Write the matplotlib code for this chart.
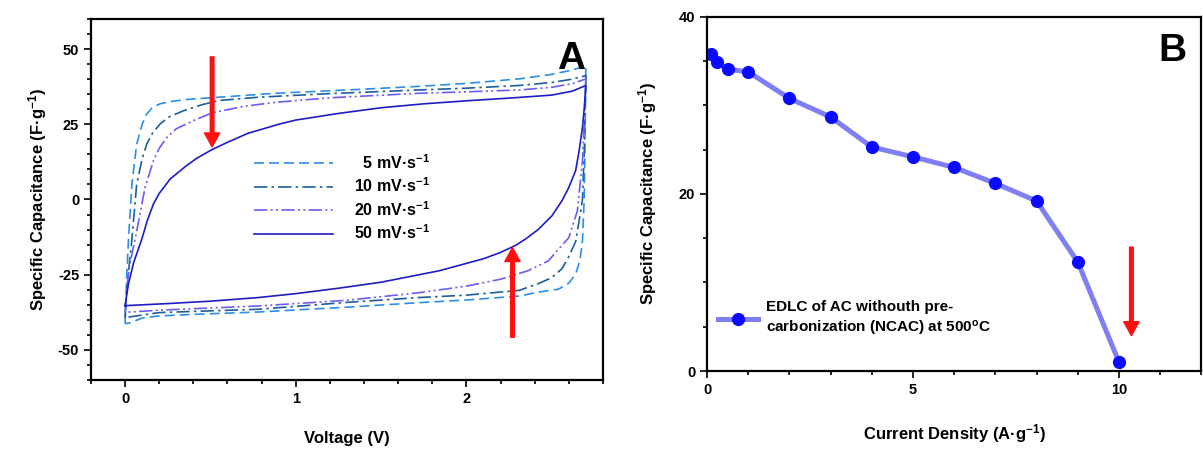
#!/usr/bin/env python3

import matplotlib
matplotlib.use("Agg")
import matplotlib.pyplot as plt
from matplotlib.ticker import MultipleLocator

plt.rcParams["font.family"] = ["Liberation Sans", "DejaVu Sans"]
plt.rcParams["font.weight"] = "bold"
plt.rcParams["mathtext.default"] = "regular"
plt.rcParams["axes.unicode_minus"] = False

# ---- panel A: cyclic voltammetry loops ----
cv_labels = ["  5 mV·s$^{-1}$", "10 mV·s$^{-1}$", "20 mV·s$^{-1}$", "50 mV·s$^{-1}$"]

v5_up = [0, 0.005, 0.01, 0.02, 0.04, 0.068, 0.1, 0.127, 0.16, 0.205, 0.26, 0.35, 0.55, 0.88, 1.3, 1.72, 2.0, 2.31, 2.5, 2.62, 2.7]
c5_up = [-41.3, -33, -25, -13.2, 5.1, 18.4, 25, 28.4, 30.6, 31.8, 32.5, 33.2, 34.0, 35.3, 36.4, 37.6, 38.6, 40.1, 41.6, 43.0, 44.5]
v5_dn = [2.7, 2.695, 2.69, 2.68, 2.665, 2.64, 2.6, 2.54, 2.42, 2.31, 2.0, 1.72, 1.3, 0.78, 0.4, 0.2, 0.1, 0.03, 0]
c5_dn = [44.5, 20, 0, -13.8, -20.4, -24.8, -27.8, -29.8, -30.8, -32.1, -33.4, -34.3, -35.8, -37.4, -38.2, -38.7, -39.4, -41.0, -41.3]

v10_up = [0, 0.01, 0.02, 0.04, 0.068, 0.1, 0.127, 0.16, 0.205, 0.26, 0.342, 0.45, 0.55, 0.78, 1.2, 1.72, 2.0, 2.31, 2.5, 2.62, 2.7]
c10_up = [-39.5, -30, -24, -13.2, 5.1, 13.5, 18.4, 22, 25.1, 27.5, 29.5, 31.5, 32.9, 34.0, 35.2, 36.4, 37.0, 37.9, 38.9, 40.0, 41.2]
v10_dn = [2.7, 2.69, 2.68, 2.67, 2.64, 2.6, 2.56, 2.5, 2.42, 2.31, 2.0, 1.72, 1.3, 0.78, 0.4, 0.2, 0.03, 0]
c10_dn = [41.2, 15, 0, -3.8, -14, -19, -23, -26, -28, -30.2, -31.8, -32.6, -34.2, -36.5, -37.2, -37.6, -39.0, -39.5]

v20_up = [0, 0.01, 0.025, 0.059, 0.09, 0.117, 0.166, 0.2, 0.244, 0.3, 0.4, 0.51, 0.7, 0.88, 1.2, 1.72, 2.0, 2.31, 2.5, 2.62, 2.7]
c20_up = [-37.5, -30, -22, -13.2, -4, 4.0, 12.9, 17, 20.6, 23.5, 26.2, 28.8, 31, 32.3, 33.8, 35.3, 35.8, 36.4, 37.3, 38.5, 40.1]
v20_dn = [2.7, 2.69, 2.68, 2.65, 2.6, 2.54, 2.48, 2.36, 2.2, 2.0, 1.72, 1.3, 0.78, 0.4, 0.2, 0.03, 0]
c20_dn = [40.1, 25, 12.9, -3.8, -12.7, -16.5, -20.4, -23.7, -26.5, -28.8, -31.0, -33.5, -35.4, -36.3, -36.8, -37.4, -37.5]

v50_up = [0, 0.02, 0.05, 0.098, 0.13, 0.166, 0.2, 0.264, 0.354, 0.42, 0.51, 0.6, 0.72, 0.9, 1.0, 1.25, 1.5, 1.75, 2.0, 2.25, 2.5, 2.62, 2.7]
c50_up = [-35.3, -28, -21, -13.2, -7.0, -1.5, 2.0, 6.8, 11.0, 13.7, 16.6, 19.0, 22.0, 25.0, 26.4, 28.6, 30.5, 31.8, 32.8, 33.7, 34.7, 36.0, 37.9]
v50_dn = [2.7, 2.69, 2.68, 2.66, 2.64, 2.6, 2.56, 2.5, 2.42, 2.35, 2.29, 2.2, 2.1, 1.84, 1.5, 1.25, 1.0, 0.78, 0.5, 0.25, 0]
c50_dn = [37.9, 30, 24, 16, 9.6, 4, -0.4, -5.5, -10, -13, -15.2, -17.6, -19.7, -23.7, -27.5, -29.5, -31.3, -32.6, -33.8, -34.6, -35.3]

# ---- panel B: rate capability ----
current_density = [0.1, 0.25, 0.5, 1, 2, 3, 4, 5, 6, 7, 8, 9, 10]
capacitance = [35.85, 34.9, 34.1, 33.8, 30.8, 28.7, 25.3, 24.2, 23.0, 21.2, 19.2, 12.3, 1.0]
rate_label = "EDLC of AC withouth pre-\ncarbonization (NCAC) at 500$^{o}$C"


def style_axis(ax):
    for spine in ax.spines.values():
        spine.set_linewidth(1.6)
    ax.tick_params(which="both", direction="out", top=False, right=False, labelsize=10.5, width=1.2)
    ax.tick_params(which="major", length=5)
    ax.tick_params(which="minor", length=3)
    for label in ax.get_xticklabels() + ax.get_yticklabels():
        label.set_fontweight("bold")


def red_arrow(ax, x, y_from, y_to):
    ax.annotate(
        "",
        xy=(x, y_to),
        xytext=(x, y_from),
        arrowprops=dict(facecolor="#ff1010", edgecolor="#ff1010", width=2.6, headwidth=11, headlength=10),
    )


def plot_cv(ax):
    loops = [
        (v5_up + v5_dn, c5_up + c5_dn, "#2b8ee8", (0, (6, 3))),
        (v10_up + v10_dn, c10_up + c10_dn, "#1c5f9c", (0, (8, 2.5, 1.5, 2.5))),
        (v20_up + v20_dn, c20_up + c20_dn, "#6a5cf6", (0, (8, 2, 1.2, 2, 1.2, 2))),
        (v50_up + v50_dn, c50_up + c50_dn, "#1d1dc4", "-"),
    ]
    for (volts, caps, color, style), label in zip(loops, cv_labels):
        ax.plot(volts, caps, color=color, linestyle=style, linewidth=1.2, label=label)

    ax.set_xlim(-0.2, 2.8)
    ax.set_ylim(-60, 60)
    ax.xaxis.set_major_locator(MultipleLocator(1))
    ax.xaxis.set_minor_locator(MultipleLocator(0.2))
    ax.yaxis.set_major_locator(MultipleLocator(25))
    ax.yaxis.set_minor_locator(MultipleLocator(5))
    ax.set_xlabel("Voltage (V)", fontsize=12, fontweight="bold", labelpad=18)
    ax.set_ylabel("Specific Capacitance (F·g$^{-1}$)", fontsize=12, fontweight="bold", labelpad=6)
    style_axis(ax)

    ax.legend(
        loc="center",
        bbox_to_anchor=(0.49, 0.505),
        frameon=False,
        handlelength=5.0,
        handletextpad=1.3,
        labelspacing=0.3,
        prop={"weight": "bold", "size": 11.5},
    )
    ax.text(0.965, 0.94, "A", transform=ax.transAxes, ha="right", va="top", fontsize=28, fontweight="bold")
    red_arrow(ax, 0.51, 47.4, 17.5)
    red_arrow(ax, 2.27, -45.8, -16.0)


def plot_rate(ax):
    ax.plot(
        current_density,
        capacitance,
        color="#7f7ff4",
        linewidth=3.6,
        marker="o",
        markersize=8.5,
        markerfacecolor="#0a0aff",
        markeredgecolor="#0a0aff",
        label=rate_label,
    )
    ax.set_xlim(0, 12)
    ax.set_ylim(0, 40)
    ax.xaxis.set_major_locator(MultipleLocator(5))
    ax.xaxis.set_minor_locator(MultipleLocator(1))
    ax.yaxis.set_major_locator(MultipleLocator(20))
    ax.yaxis.set_minor_locator(MultipleLocator(5))
    ax.set_xlabel("Current Density (A·g$^{-1}$)", fontsize=12, fontweight="bold", labelpad=18)
    ax.set_ylabel("Specific Capacitance (F·g$^{-1}$)", fontsize=12, fontweight="bold", labelpad=14)
    style_axis(ax)

    leg = ax.legend(
        loc="upper left",
        bbox_to_anchor=(-0.005, 0.24),
        frameon=False,
        handlelength=2.6,
        handletextpad=0.5,
        prop={"weight": "bold", "size": 11},
    )
    for text in leg.get_texts():
        text.set_linespacing(1.4)
    ax.text(0.97, 0.955, "B", transform=ax.transAxes, ha="right", va="top", fontsize=28, fontweight="bold")
    red_arrow(ax, 10.3, 14.0, 4.0)


def main() -> int:
    fig = plt.figure(figsize=(12.03, 4.49), dpi=100)
    ax_a = fig.add_axes([0.0756, 0.1537, 0.4256, 0.804])
    ax_b = fig.add_axes([0.5877, 0.1737, 0.411, 0.7885])
    plot_cv(ax_a)
    plot_rate(ax_b)
    fig.savefig("out.png", dpi=100, facecolor="white")
    plt.close(fig)
    return 0


if __name__ == "__main__":
    raise SystemExit(main())
